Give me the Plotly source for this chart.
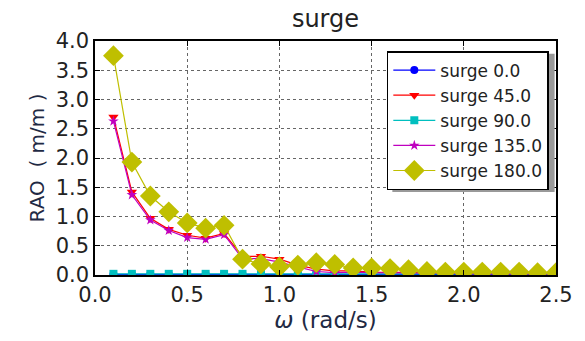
import plotly.graph_objects as go

omega = [0.1, 0.2, 0.3, 0.4, 0.5, 0.6, 0.7, 0.8, 0.9, 1.0, 1.1, 1.2, 1.3,
         1.4, 1.5, 1.6, 1.7, 1.8, 1.9, 2.0, 2.1, 2.2, 2.3, 2.4, 2.5]

surge_0 = [0.01, 0.01, 0.01, 0.01, 0.01, 0.01, 0.01, 0.01, 0.01, 0.01, 0.01, 0.02, 0.02,
           0.01, 0.01, 0.01, 0.01, 0.01, 0.01, 0.01, 0.01, 0.01, 0.01, 0.01, 0.01]
surge_45 = [2.70, 1.42, 0.97, 0.78, 0.68, 0.63, 0.71, 0.32, 0.32, 0.27, 0.17, 0.10, 0.07,
            0.07, 0.05, 0.05, 0.04, 0.04, 0.03, 0.03, 0.03, 0.03, 0.02, 0.02, 0.02]
surge_90 = [0.02, 0.02, 0.02, 0.02, 0.02, 0.02, 0.02, 0.02, 0.02, 0.02, 0.02, 0.02, 0.02,
            0.02, 0.02, 0.02, 0.02, 0.02, 0.02, 0.02, 0.02, 0.02, 0.02, 0.02, 0.02]
surge_135 = [2.63, 1.37, 0.94, 0.76, 0.64, 0.61, 0.69, 0.28, 0.28, 0.22, 0.14, 0.06, 0.04,
             0.05, 0.04, 0.04, 0.03, 0.03, 0.03, 0.02, 0.02, 0.02, 0.02, 0.02, 0.02]
surge_180 = [3.75, 1.93, 1.35, 1.08, 0.89, 0.80, 0.85, 0.27, 0.19, 0.14, 0.17, 0.21, 0.18,
             0.12, 0.12, 0.11, 0.09, 0.06, 0.05, 0.05, 0.05, 0.05, 0.05, 0.04, 0.04]

series = [
    ("surge 0.0", surge_0, "#0000ff", "circle", 8),
    ("surge 45.0", surge_45, "#ff0000", "triangle-down", 9),
    ("surge 90.0", surge_90, "#00bfbf", "square", 8),
    ("surge 135.0", surge_135, "#bf00bf", "star", 8),
    ("surge 180.0", surge_180, "#bfbf00", "diamond", 16),
]

fig = go.Figure()
for i, (name, vals, color, sym, size) in enumerate(series):
    fig.add_trace(go.Scatter(
        x=omega, y=vals, name=name, mode="lines+markers",
        line=dict(color=color, width=1.2),
        marker=dict(symbol=sym, size=size, color=color, line=dict(width=0)),
        legendgroup=f"g{i}",
    ))

font_family = "DejaVu Sans"
axis_common = dict(
    showline=True, linecolor="black", linewidth=1.5, mirror="allticks",
    ticks="inside", ticklen=5, tickcolor="black",
    showgrid=True, gridcolor="#666666", griddash="dot", gridwidth=1,
    zeroline=False,
    tickfont=dict(family=font_family, size=21, color="#222222"),
)

# legend shadow (paper coords)
fig.add_shape(type="rect", xref="paper", yref="paper",
              x0=0.645, x1=0.997, y0=0.355, y1=0.945,
              fillcolor="#999999", line=dict(width=0), layer="above")

fig.update_layout(
    width=585, height=341,
    margin=dict(l=95, r=27, t=41, b=66),
    paper_bgcolor="white", plot_bgcolor="white",
    title=dict(text="surge", x=0.5, xref="paper", y=0.945, yanchor="middle",
               font=dict(family=font_family, size=24, color="#222222")),
    xaxis=dict(range=[0, 2.5], tickvals=[0, 0.5, 1.0, 1.5, 2.0, 2.5],
               ticktext=["0.0", "0.5", "1.0", "1.5", "2.0", "2.5"],
               title=dict(text="<i>ω</i> (rad/s)", standoff=4,
                          font=dict(family=font_family, size=23, color="#1f2a44")),
               **axis_common),
    yaxis=dict(range=[0, 4.0], tickvals=[0, 0.5, 1, 1.5, 2, 2.5, 3, 3.5, 4],
               ticktext=["0.0", "0.5", "1.0", "1.5", "2.0", "2.5", "3.0", "3.5", "4.0"],
               title=dict(text="RAO  ( m/m )", standoff=6,
                          font=dict(family=font_family, size=20, color="#1f2a44")),
               **axis_common),
    legend=dict(x=0.633, y=0.957, xanchor="left", yanchor="top",
                bgcolor="white", bordercolor="black", borderwidth=1.5,
                font=dict(family=font_family, size=17, color="#222222"),
                itemwidth=42, tracegroupgap=0),
    showlegend=True,
)

fig.write_html("out.html")
